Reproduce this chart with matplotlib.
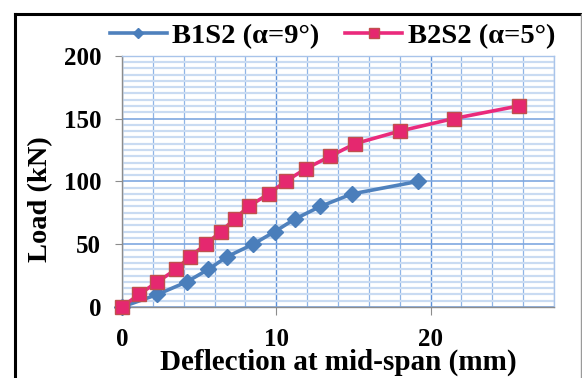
import numpy as np
import matplotlib
matplotlib.use("Agg")
import matplotlib.pyplot as plt
from matplotlib.lines import Line2D
from matplotlib.ticker import MultipleLocator

# data
b1_defl = [0, 2.3, 4.2, 5.6, 6.8, 8.5, 9.9, 11.2, 12.85, 14.9, 19.2]
b1_load = [0, 10, 20, 30, 40, 50, 60, 70, 80, 90, 100]
b2_defl = [0, 1.1, 2.3, 3.5, 4.4, 5.45, 6.4, 7.3, 8.2, 9.5, 10.6, 11.9,
           13.5, 15.1, 18.0, 21.5, 25.7]
b2_load = [0, 10, 20, 30, 40, 50, 60, 70, 80, 90, 100, 110,
           120, 130, 140, 150, 160]
x_ticks = [0, 10, 20]

plt.rcParams["font.family"] = ["Liberation Serif", "DejaVu Serif"]
plt.rcParams["font.weight"] = "bold"

fig = plt.figure(figsize=(5.82, 3.78), dpi=100)
ax = fig.add_axes([0.2096, 0.1878, 0.7423, 0.6648])

ax.set_xlim(0, 28)
ax.set_ylim(0, 200)
ax.set_xticks(x_ticks)
ax.xaxis.set_minor_locator(MultipleLocator(2))
ax.yaxis.set_major_locator(MultipleLocator(50))
ax.yaxis.set_minor_locator(MultipleLocator(5))

# grid
ax.grid(which="minor", axis="y", color="#c9dbf2", lw=1.6)
ax.grid(which="minor", axis="x", color="#8fb4e6", lw=0.9)
ax.grid(which="major", axis="y", color="#7fa8e0", lw=1.2)
ax.grid(which="major", axis="x", color="#5b8fd9", lw=1.0)
ax.set_axisbelow(True)

for s in ["top", "right"]:
    ax.spines[s].set_color("#a9c4ea")
    ax.spines[s].set_linewidth(1.0)
for s in ["left", "bottom"]:
    ax.spines[s].set_color("#8c8c8c")
    ax.spines[s].set_linewidth(1.0)

ax.plot(b1_defl, b1_load, color="#4f81bd", lw=2.6, marker="D",
        markersize=8.5, markerfacecolor="#4a7ebb", markeredgecolor="#4a7ebb",
        label="B1S2 (α=9°)", clip_on=False, zorder=3)
ax.plot(b2_defl, b2_load, color="#ea2a7c", lw=2.6, marker="s",
        markersize=10.5, markerfacecolor="#e5286f", markeredgecolor="#c0504d",
        markeredgewidth=1.0, label="B2S2 (α=5°)", clip_on=False, zorder=4)

ax.tick_params(axis="y", which="major", length=5, color="#8c8c8c",
               labelsize=18, pad=10)
ax.tick_params(axis="x", which="major", length=6, color="#8c8c8c",
               labelsize=18, pad=9)
ax.tick_params(which="minor", length=0)
ax.xaxis.get_major_ticks()[0].tick1line.set_visible(False)

ax.set_xlabel("Deflection at mid-span (mm)", fontsize=21, fontweight="bold",
              labelpad=-1.5)
ax.set_ylabel("Load (kN)", fontsize=20.5, fontweight="bold")
ax.yaxis.set_label_coords(-0.16, 0.43)

fig.legend(loc="center", bbox_to_anchor=(0.571, 0.905), ncol=2,
           frameon=False, handlelength=2.0, handletextpad=0.2,
           columnspacing=0.9, borderaxespad=0, borderpad=0, markerscale=0.65,
           prop={"weight": "bold", "size": 20.5})

# frame around the figure
fig.add_artist(Line2D([15 / 582, 15 / 582], [0, 1 - 14 / 378],
                      transform=fig.transFigure, color="black", lw=2.2))
fig.add_artist(Line2D([15 / 582, 1], [1 - 14 / 378, 1 - 14 / 378],
                      transform=fig.transFigure, color="black", lw=2.2))
fig.add_artist(Line2D([580.5 / 582, 580.5 / 582], [0, 1 - 14 / 378],
                      transform=fig.transFigure, color="#9a9a9a", lw=1.0))

fig.savefig("out.png", dpi=100)
